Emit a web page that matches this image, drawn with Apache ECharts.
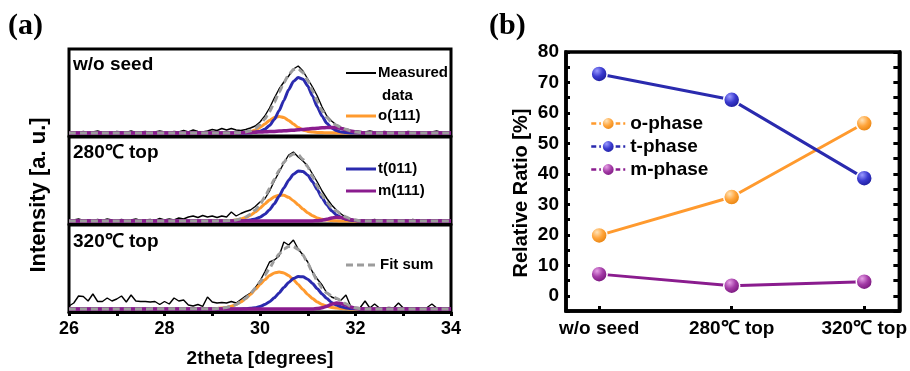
<!DOCTYPE html>
<html><head><meta charset="utf-8">
<script src="https://cdn.jsdelivr.net/npm/echarts@6/dist/echarts.min.js"></script>
<style>html,body{margin:0;padding:0;background:#fff}#c{width:910px;height:371px}</style>
</head><body><div id="c"></div>
<script>
// ---------- Panel (a): XRD data ----------
const thetaMeas = [26.0,26.1,26.2,26.3,26.4,26.5,26.6,26.7,26.8,26.9,
27.0,27.1,27.2,27.3,27.4,27.5,27.6,27.7,27.8,27.9,
28.0,28.1,28.2,28.3,28.4,28.5,28.6,28.7,28.8,28.9,
29.0,29.1,29.2,29.3,29.4,29.5,29.6,29.7,29.8,29.9,
30.0,30.1,30.2,30.3,30.4,30.5,30.6,30.7,30.8,30.9,
31.0,31.1,31.2,31.3,31.4,31.5,31.6,31.7,31.8,31.9,
32.0,32.1,32.2,32.3,32.4,32.5,32.6,32.7,32.8,32.9,
33.0,33.1,33.2,33.3,33.4,33.5,33.6,33.7,33.8,33.9,34.0];

const measWo = [0.5,1,0.5,1.5,0.5,1,2,0.5,1,0.5,
1.5,1,0.5,2,0.5,1,1.5,0.5,1,2,
1,0.5,1.5,1,2.5,1,3,1.5,1,2,
3.5,2.5,4.5,3,4.5,3,2.5,3.5,5,7,
11,17,25,35,44,51,57,64,67,62,
54,46,37,26,17,12,8,5.5,3.5,2.5,
2,1.5,1,2,1,0.5,1.5,1,0.5,1,
0.5,1.5,1,0.5,1,0.5,1,2,0.5,1,0.5];

const meas280 = [0.5,1,2,0.5,1,0.5,1.5,0.5,2,1,
0.5,1.5,0.5,1,2,0.5,1,1.5,0.5,2.5,
1,2,1,3,2,4,5,3.5,5.5,4,
5,3.5,5,4,9,5,7.5,9.5,11,14.5,
19,22,30,40,49,58,66,69,64,60,
55,47,39,30,22.5,16,11,7,3.5,2,
1,0.5,1,0.5,1.5,0.5,1,0.5,1,0.5,
1,0.5,1.5,0.5,1,0.5,1,0.5,1,0.5,1];

const meas320 = [3,6,13,12.5,8,15,7.5,7.5,11,8,
10,13,7,14,8,7.5,7.5,7,7.5,4.5,
7.5,5,11,8,9,4,3,4.5,2.6,12,
7,6,6.5,6,7.5,6,9.5,13,16,21,
28,37,47,49,53,67,64,69,60,54,
47,37,30,24,16,12,10,9,14,2.5,
1,1.5,8,1,5,1,1,1.5,1,6,
1,1,1,1,1,1.5,5,1,1,1,1];

const thetaFit = [26,29.0,29.1,29.2,29.3,29.4,29.5,29.6,29.7,29.8,29.9,
30.0,30.1,30.2,30.3,30.4,30.5,30.6,30.7,30.8,30.9,
31.0,31.1,31.2,31.3,31.4,31.5,31.6,31.7,31.8,31.9,
32.0,32.1,32.2,32.3,32.4,34];

const oWo = [0,0,0,0,0,0,0.1,0.2,0.6,1.4,3.0,5.5,9.0,12.6,15.5,16.6,15.5,12.6,9.0,5.5,3.0,1.6,0.9,0.6,0.4,0.3,0.2,0.1,0,0,0,0,0,0,0,0,0];
const tWo = [0,0,0,0,0,0,0,0,0.1,0.3,0.7,1.7,3.7,7.5,13.6,22.2,32.6,43.2,51.6,55.5,53.8,47.0,37.0,26.2,16.8,9.7,5.0,2.4,1.0,0.4,0.1,0,0,0,0,0,0];
const mWo = [0,0,0,0,0,0,0.1,0.2,0.4,0.6,0.8,1.0,1.2,1.4,1.6,1.9,2.2,2.5,2.8,3.2,3.6,4.0,4.4,4.8,5.2,5.5,5.6,5.3,4.5,3.3,2.0,1.0,0.4,0,0,0,0];
const sWo = [0,0,0,0,0,0,0.2,0.4,1.1,2.3,4.5,8.2,13.9,21.5,30.7,40.7,50.3,58.3,63.4,64.2,60.4,52.6,42.3,31.6,22.4,15.5,10.8,7.8,5.5,3.7,2.1,1.0,0.4,0,0,0,0];

const o280 = [0,0,0.1,0.2,0.3,0.5,1.0,2.0,3.5,5.8,9.0,12.8,17.1,21.1,24.2,25.8,25.7,23.7,20.3,16.2,12.0,8.3,5.3,3.1,1.7,0.9,0.4,0.2,0,0,0,0,0,0,0,0,0];
const t280 = [0,0,0,0,0,0,0.1,0.2,0.4,1.0,2.0,3.8,6.8,11.3,17.3,24.8,33.0,40.8,46.8,50.0,49.6,45.8,39.3,31.3,23.2,16.0,10.2,6.1,3.4,1.7,0.8,0.4,0.1,0,0,0,0];
const m280 = [0,0,0,0,0,0,0,0,0,0,0,0,0,0,0,0,0,0,0,0,0,0,0,0.3,0.8,1.7,3.0,3.8,3.4,2.3,1.2,0.5,0.2,0,0,0,0];
const s280 = [0,0,0.1,0.2,0.3,0.5,1.1,2.2,3.9,6.8,11.0,16.6,23.9,32.4,41.5,50.6,58.7,64.5,67.1,66.2,61.6,54.1,44.6,34.7,25.7,18.6,13.6,10.1,6.8,4.0,2.0,0.9,0.3,0,0,0,0];

const o320 = [0,0.2,0.5,0.9,1.6,2.8,4.6,7.1,10.4,14.6,19.4,24.5,29.3,33.4,36.1,37.0,36.1,33.4,29.3,24.5,19.4,14.6,10.4,7.1,4.6,2.8,1.6,0.9,0.5,0.2,0,0,0,0,0,0,0];
const t320 = [0,0,0,0,0,0,0,0.1,0.3,0.7,1.3,2.5,4.4,7.3,11.2,16.1,21.5,26.5,30.4,32.5,32.2,29.8,25.5,20.3,15.1,10.4,6.6,4.0,2.2,1.1,0.5,0.3,0.1,0,0,0,0];
const m320 = [0,0,0,0,0,0,0,0,0,0,0,0,0,0,0,0,0,0,0,0,0,0,0,0.4,1.2,2.8,4.8,5.9,5.5,3.9,2.0,0.8,0.3,0,0,0,0];
const s320 = [0,0.2,0.5,0.9,1.6,2.8,4.6,7.2,10.7,15.3,20.7,27.0,33.7,40.7,48.5,55.0,60.0,62.5,62.5,59.5,54.0,45.5,36.5,28.0,21.0,16.0,13.0,10.8,8.2,5.2,2.5,1.1,0.4,0,0,0,0];

const panelNames = ['w/o seed', '280℃ top', '320℃ top'];
const xTicksA = [26, 28, 30, 32, 34];

// ---------- Panel (b): phase ratios ----------
const categories = ['w/o seed', '280℃ top', '320℃ top'];
const oPhase = [19.8, 32.4, 56.6];
const tPhase = [72.8, 64.3, 38.6];
const mPhase = [7.1, 3.3, 4.6];

// ---------- build ----------
const FONT = '"Liberation Sans", Arial, sans-serif';
const C_O = '#FF9A2E', C_T = '#2A2AAE', C_M = '#8A1C8E', C_S = '#9C9C9C';
const pair = (xs, ys) => xs.map((x, i) => [x, ys[i]]);
const sphere = (hi, mid, lo) => ({type:'radial', x:0.38, y:0.32, r:0.75,
  colorStops:[{offset:0,color:hi},{offset:0.45,color:mid},{offset:1,color:lo}]});

const measSets = [measWo, meas280, meas320];
const fitSets = [[oWo,tWo,mWo,sWo],[o280,t280,m280,s280],[o320,t320,m320,s320]];
const tops = [49, 137, 225];

const grid = tops.map(t => ({left:69, width:382, top:t, height:87, show:true,
  borderWidth:3, borderColor:'#000', backgroundColor:'rgba(0,0,0,0)'}));
grid.push({left:566, top:52, width:347, height:259, show:true, borderWidth:3.5,
  borderColor:'#000', backgroundColor:'rgba(0,0,0,0)'});

const boldTxt = (size) => ({fontSize:size, fontWeight:'bold', color:'#000', fontFamily:FONT});

const xAxis = tops.map((t, i) => ({
  gridIndex:i, type:'value', min:26, max:34, interval:1,
  axisLine:{show:i===2, onZero:false, lineStyle:{color:'#000', width:3}},
  axisTick:{show:i===2, inside:false, length:4, lineStyle:{color:'#000', width:3}},
  axisLabel:{show:i===2, margin:8, ...boldTxt(18),
    formatter: v => xTicksA.indexOf(v) >= 0 ? String(v) : ''},
  splitLine:{show:false},
  name: i===2 ? '2theta [degrees]' : '', nameLocation:'middle', nameGap:37,
  nameTextStyle: boldTxt(19)
}));
xAxis.push({
  gridIndex:3, type:'value', min:-0.25, max:2.265,
  axisLine:{onZero:false, lineStyle:{color:'#000', width:3.5}},
  axisTick:{inside:true, length:5, lineStyle:{color:'#000', width:3}, customValues:[0,1,2]},
  axisLabel:{margin:8, ...boldTxt(19), customValues:[0,1,2],
    formatter: v => categories[Math.round(v)] || ''},
  splitLine:{show:false}
});

const yAxis = tops.map((t, i) => ({gridIndex:i, type:'value', min:-3, max:84, show:false}));
yAxis.push({
  gridIndex:3, type:'value', min:-5, max:80, interval:5,
  axisLine:{show:true, onZero:false, lineStyle:{color:'#000', width:3.5}},
  axisTick:{show:true, inside:true, length:4, lineStyle:{color:'#000', width:3}},
  axisLabel:{margin:7, ...boldTxt(19), formatter: v => (v >= 0 && v % 10 === 0) ? String(v) : ''},
  splitLine:{show:false}
});
yAxis.push({
  gridIndex:3, type:'value', position:'right', min:-5, max:80, interval:5,
  axisLine:{show:true, onZero:false, lineStyle:{color:'#000', width:3.5}},
  axisTick:{show:true, inside:true, length:6, lineStyle:{color:'#000', width:3}},
  axisLabel:{show:false}, splitLine:{show:false}
});

const series = [];
measSets.forEach((m, i) => {
  series.push({type:'line', name:'Measured data', xAxisIndex:i, yAxisIndex:i, data:pair(thetaMeas, m),
    showSymbol:false, symbol:'none', lineStyle:{color:'#000', width:1.4}, z:2, silent:true});
  const [o, t, mm, s] = fitSets[i];
  series.push({type:'line', name:'o(111)', xAxisIndex:i, yAxisIndex:i, data:pair(thetaFit, o),
    symbol:'none', smooth:0.2, smoothMonotone:'x', lineStyle:{color:C_O, width:3}, z:3, silent:true});
  series.push({type:'line', name:'t(011)', xAxisIndex:i, yAxisIndex:i, data:pair(thetaFit, t),
    symbol:'none', smooth:0.2, smoothMonotone:'x', lineStyle:{color:C_T, width:3}, z:4, silent:true});
  series.push({type:'line', name:'m(111)', xAxisIndex:i, yAxisIndex:i, data:pair(thetaFit, mm),
    symbol:'none', smooth:0.2, smoothMonotone:'x', lineStyle:{color:C_M, width:3.5}, z:5, silent:true});
  series.push({type:'line', name:'Fit sum', xAxisIndex:i, yAxisIndex:i, data:pair(thetaFit, s),
    symbol:'none', smooth:0.2, smoothMonotone:'x', lineStyle:{color:C_S, width:3, type:[7,4]}, z:6, silent:true});
});

const phaseSeries = [
  ['o-phase', oPhase, C_O, sphere('#FFE3B8', '#FFA53C', '#E07800')],
  ['t-phase', tPhase, C_T, sphere('#9A9AFF', '#3A3ACF', '#13138A')],
  ['m-phase', mPhase, C_M, sphere('#E6A0E6', '#A33BA6', '#6A0A6E')]
];
phaseSeries.forEach(([name, vals, col, grad]) => {
  series.push({type:'line', name, xAxisIndex:3, yAxisIndex:3,
    data: vals.map((v, i) => [i, v]),
    symbol:'circle', symbolSize:16, showSymbol:true,
    lineStyle:{color:col, width:3},
    itemStyle:{color:grad, borderColor:'#fff', borderWidth:1.5},
    z:5});
});

const gText = (text, left, top, font, extra) => Object.assign({type:'text', left, top,
  style:{text, font, fill:'#000'}}, extra || {});
const F19 = 'bold 19px "Liberation Sans", Arial, sans-serif';
const F15 = 'bold 15px "Liberation Sans", Arial, sans-serif';
const legLine = (y, color, w, dash) => ({type:'line', shape:{x1:346, y1:y, x2:376, y2:y},
  style:{stroke:color, lineWidth:w, lineDash:dash || null}, z:20});
const vText = (text, x, y, size) => ({type:'text', x, y, rotation:Math.PI/2,
  style:{text, font:'bold ' + size + 'px "Liberation Sans", Arial, sans-serif', fill:'#000',
    align:'center', verticalAlign:'middle', textAlign:'center', textVerticalAlign:'middle'}});

const graphic = [
  gText('(a)', 8, 11, 'bold 30px "Liberation Serif", "Times New Roman", serif'),
  gText('(b)', 489, 11, 'bold 30px "Liberation Serif", "Times New Roman", serif'),
  gText(panelNames[0], 73, 55, F19),
  gText(panelNames[1], 73, 143, F19),
  gText(panelNames[2], 73, 232, F19),
  vText('Intensity [a. u.]', 39, 195, 22),
  vText('Relative Ratio [%]', 521, 193, 20),
  legLine(73, '#000', 2),
  gText('Measured', 378, 65, F15),
  gText('data', 382, 88, F15),
  legLine(116, C_O, 3),
  gText('o(111)', 378, 108, F15),
  legLine(169, C_T, 3),
  gText('t(011)', 378, 161, F15),
  legLine(191, C_M, 3),
  gText('m(111)', 378, 183, F15),
  legLine(265, C_S, 3, [7,4]),
  gText('Fit sum', 380, 257, F15)
];

const chart = echarts.init(document.getElementById('c'), null, {renderer:'canvas'});
chart.setOption({
  animation:false,
  backgroundColor:'#fff',
  grid, xAxis, yAxis, series, graphic,
  legend:{data:['o-phase','t-phase','m-phase'], orient:'vertical', left:585, top:109,
    itemWidth:34, itemHeight:16, itemGap:4, selectedMode:false,
    textStyle: boldTxt(19), lineStyle:{type:[5,3], width:2.5}}
});
</script></body></html>
